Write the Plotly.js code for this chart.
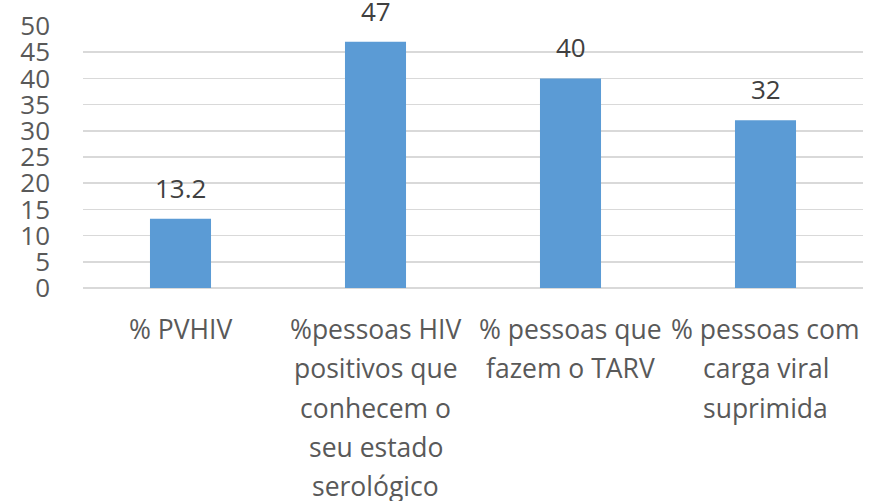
<!DOCTYPE html>
<html>
<head>
<meta charset="utf-8">
<script src="https://cdn.plot.ly/plotly-3.0.1.min.js"></script>
<style>html,body{margin:0;padding:0;background:#fff;}#chart{width:889px;height:501px;}</style>
</head>
<body>
<div id="chart"></div>
<script>
var categories = ["% PVHIV", "%pessoas HIV positivos que conhecem o seu estado serológico", "% pessoas que fazem o TARV", "% pessoas com carga viral suprimida"];
var categoryLines = [
  ["% PVHIV"],
  ["%pessoas HIV", "positivos que", "conhecem o", "seu estado", "serológico"],
  ["% pessoas que", "fazem o TARV"],
  ["% pessoas com", "carga viral", "suprimida"]
];
var values = [13.2, 47, 40, 32];
var valueLabels = ["13.2", "47", "40", "32"];
var yTicks = [0, 5, 10, 15, 20, 25, 30, 35, 40, 45, 50];

var FONT = "Open Sans, Noto Sans, sans-serif";
var annotations = [];
values.forEach(function (v, i) {
  annotations.push({
    x: categories[i], y: v, xref: "x", yref: "y",
    text: valueLabels[i], showarrow: false,
    yanchor: "bottom", yshift: 11,
    font: {family: FONT, size: 26, color: "#404040"}
  });
});
categoryLines.forEach(function (lines, i) {
  lines.forEach(function (ln, j) {
    annotations.push({
      x: categories[i], y: 0, xref: "x", yref: "paper",
      text: ln, showarrow: false,
      yanchor: "middle", yshift: -(41 + 39.3 * j),
      font: {family: FONT, size: 26.5, color: "#595959"}
    });
  });
});

Plotly.newPlot("chart", [{
  type: "bar",
  x: categories,
  y: values,
  marker: {color: "#5B9BD5"},
  hoverinfo: "none"
}], {
  width: 889, height: 501,
  margin: {l: 83, r: 26, t: 26, b: 213, pad: 0},
  paper_bgcolor: "#fff", plot_bgcolor: "#fff",
  bargap: 0.687,
  showlegend: false,
  xaxis: {showticklabels: false, showgrid: false, zeroline: false, showline: false, ticks: ""},
  yaxis: {
    range: [0, 50], tickvals: yTicks, ticktext: yTicks.map(String),
    showgrid: true, gridcolor: "#D9D9D9", gridwidth: 1.5,
    zeroline: true, zerolinecolor: "#D9D9D9", zerolinewidth: 1.5,
    showline: false, ticks: "", ticklabelstandoff: 32,
    tickfont: {family: FONT, size: 26, color: "#595959"}
  },
  annotations: annotations
}, {staticPlot: true});
</script>
</body>
</html>
